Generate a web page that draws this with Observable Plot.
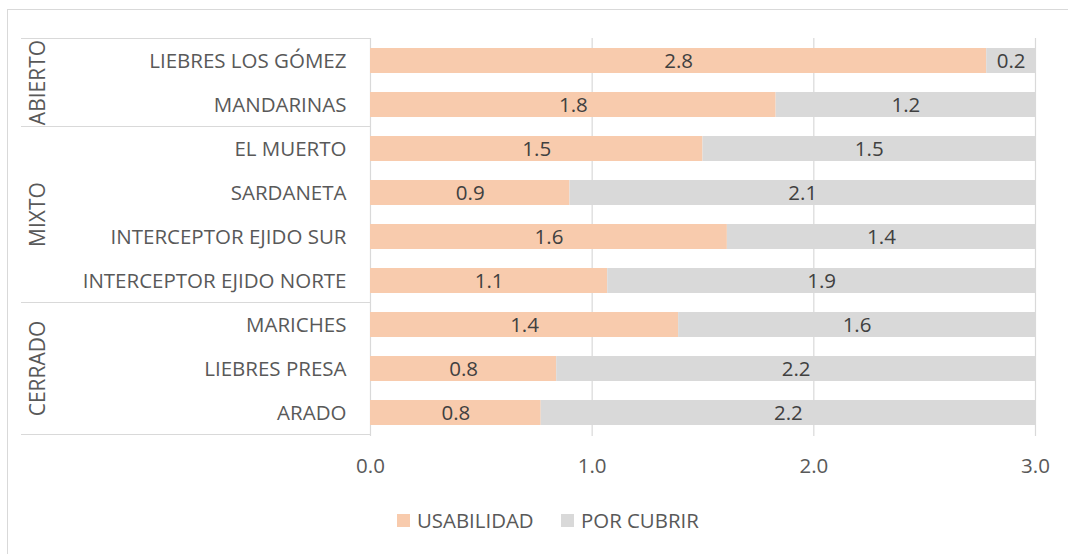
<!DOCTYPE html>
<html>
<head>
<meta charset="utf-8">
<script src="https://cdn.jsdelivr.net/npm/d3@7"></script>
<script src="https://cdn.jsdelivr.net/npm/@observablehq/plot@0.6"></script>
<style>
  html, body { margin: 0; padding: 0; background: #fff; }
  #wrap { position: relative; width: 1068px; height: 554px; overflow: hidden; font-family: "Open Sans", sans-serif; }
  #frame { position: absolute; left: 7px; top: 9px; width: 1100px; height: 600px; border-left: 1px solid #d9d9d9; border-top: 1px solid #d9d9d9; }
  #chart { position: absolute; left: 0; top: 0; }
  #legend { position: absolute; left: 0; top: 490px; width: 1068px; height: 64px; }
  .item { position: absolute; top: 0; display: flex; align-items: center; height: 60px; font-size: 20.4px; color: #595959; }
  .sw { width: 13px; height: 13px; margin-right: 7px; }
</style>
</head>
<body>
<div id="wrap">
  <div id="frame"></div>
  <div id="chart"></div>
  <div id="legend"></div>
</div>
<script>
const categories = ["LIEBRES LOS GÓMEZ", "MANDARINAS", "EL MUERTO", "SARDANETA", "INTERCEPTOR EJIDO SUR", "INTERCEPTOR EJIDO NORTE", "MARICHES", "LIEBRES PRESA", "ARADO"];
const groups = ["ABIERTO", "ABIERTO", "MIXTO", "MIXTO", "MIXTO", "MIXTO", "CERRADO", "CERRADO", "CERRADO"];
const usabilidad = [2.78, 1.83, 1.50, 0.90, 1.61, 1.07, 1.39, 0.84, 0.77];
const porCubrir = [0.22, 1.17, 1.50, 2.10, 1.39, 1.93, 1.61, 2.16, 2.23];
const series = ["USABILIDAD", "POR CUBRIR"];
const colors = ["#F8CBAD", "#D9D9D9"];
const xTicks = [0, 1, 2, 3];

const data = [];
categories.forEach((c, i) => {
  data.push({cat: c, series: series[0], value: usabilidad[i]});
  data.push({cat: c, series: series[1], value: porCubrir[i]});
});

const plot = Plot.plot({
  width: 1068,
  height: 490,
  marginLeft: 370,
  marginRight: 33,
  marginTop: 38,
  marginBottom: 54,
  style: {fontFamily: "Open Sans, sans-serif", fontSize: "20.5px", color: "#595959", background: "transparent"},
  x: {domain: [0, 3], ticks: xTicks, tickFormat: d3.format(".1f"), label: null, tickSize: 0, tickPadding: 22},
  y: {domain: categories, label: null, tickSize: 0, tickPadding: 24, paddingInner: 0.43, paddingOuter: 0.215},
  color: {domain: series, range: colors},
  marks: [
    Plot.gridX(xTicks, {stroke: "#d9d9d9", strokeOpacity: 1, strokeWidth: 1.2}),
    Plot.barX(data, Plot.stackX({x: "value", y: "cat", fill: "series", order: series})),
    Plot.textX(data, Plot.stackX({x: "value", y: "cat", z: "series", order: series, text: d => d3.format(".1f")(d.value), fill: "#404040", fontSize: 20.5}))
  ]
});
document.getElementById("chart").appendChild(plot);

// group boxes on the left, positioned with the plot's own y scale
const ys = plot.scale("y");
const step = ys.step, bw = ys.bandwidth, half = (step - bw) / 2;
const svg = d3.select(plot);
const g = svg.append("g");
const uniqGroups = [...new Set(groups)];
const bounds = [];
uniqGroups.forEach(gr => {
  const cats = categories.filter((c, i) => groups[i] === gr);
  const top = ys.apply(cats[0]) - half;
  const bot = ys.apply(cats[cats.length - 1]) + bw + half;
  bounds.push(top, bot);
  g.append("text")
    .attr("transform", `translate(37,${(top + bot) / 2}) rotate(-90)`)
    .attr("text-anchor", "middle")
    .attr("dominant-baseline", "central")
    .attr("fill", "#595959")
    .attr("font-size", 21)
    .text(gr);
});
[...new Set(bounds.map(b => Math.round(b * 10) / 10))].forEach(b => {
  g.append("line").attr("x1", 21).attr("x2", 370).attr("y1", b).attr("y2", b)
    .attr("stroke", "#d9d9d9").attr("stroke-width", 1.2);
});

// legend
const leg = d3.select("#legend");
const lefts = [397, 561];
series.forEach((s, i) => {
  const it = leg.append("div").attr("class", "item").style("left", lefts[i] + "px");
  it.append("div").attr("class", "sw").style("background", colors[i]);
  it.append("span").text(s);
});
</script>
</body>
</html>
